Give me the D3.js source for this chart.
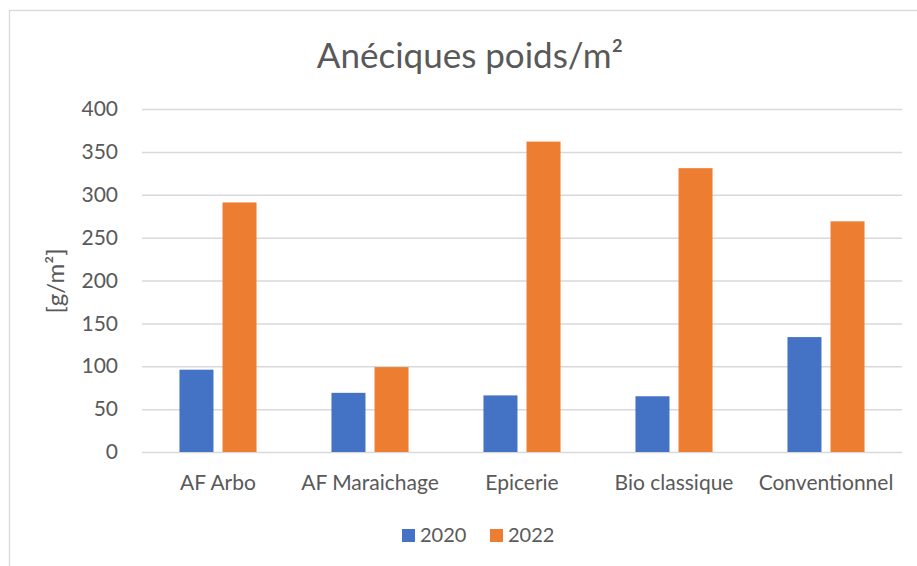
<!DOCTYPE html>
<html>
<head>
<meta charset="utf-8">
<script src="https://cdn.jsdelivr.net/npm/d3@7"></script>
<style>
  html, body { margin: 0; padding: 0; background: #fff; }
  svg { display: block; font-family: Lato, 'Open Sans', sans-serif; }
</style>
</head>
<body>
<script>
const categories = ['AF Arbo', 'AF Maraichage', 'Epicerie', 'Bio classique', 'Conventionnel'];
const series = ['2020', '2022'];
const values2020 = [96, 69, 66, 65, 134];
const values2022 = [291, 99, 362, 331, 269];
const yTicks = [0, 50, 100, 150, 200, 250, 300, 350, 400];
const colors = ['#4472C4', '#ED7D31'];

let w = 917,
  h = 566,
  plotLeft = 142,
  plotRight = 902,
  plotTop = 109,
  plotBottom = 452;

const rows = categories.map((c, i) => ({ cat: c, vals: [values2020[i], values2022[i]] }));

let x0 = d3.scaleBand()
  .domain(categories)
  .range([plotLeft, plotRight])
  .padding(0);

let x1 = d3.scaleBand()
  .domain(series)
  .range([0, x0.bandwidth()])
  .paddingInner(0.21)
  .paddingOuter(0.87);

let y = d3.scaleLinear()
  .domain([0, 400])
  .range([plotBottom, plotTop]);

let color = d3.scaleOrdinal().domain(series).range(colors);

let svg = d3.select('body')
  .append('svg')
  .attr('width', w)
  .attr('height', h);

// chart frame
svg.append('rect')
  .attr('x', 9.5)
  .attr('y', 10.5)
  .attr('width', w)
  .attr('height', h)
  .attr('fill', 'none')
  .attr('stroke', '#d9d9d9')
  .attr('stroke-width', 1.3);

// title
svg.append('text')
  .attr('x', 470)
  .attr('y', 68)
  .attr('text-anchor', 'middle')
  .attr('font-size', '35px')
  .attr('fill', '#595959')
  .text('Anéciques poids/m²');

// gridlines + y labels
let yAxis = d3.axisLeft(y)
  .tickValues(yTicks)
  .tickSize(-(plotRight - plotLeft))
  .tickPadding(24);

let gy = svg.append('g')
  .attr('transform', `translate(${plotLeft},0)`)
  .call(yAxis);

gy.select('.domain').remove();
gy.selectAll('.tick line')
  .attr('stroke', '#d9d9d9')
  .attr('stroke-width', 1.5);
gy.selectAll('.tick text')
  .attr('fill', '#595959')
  .attr('font-size', '21px')
  .attr('font-family', 'Lato, sans-serif');

// bars
let groups = svg.selectAll('g.cat')
  .data(rows)
  .enter()
  .append('g')
  .attr('class', 'cat')
  .attr('transform', d => `translate(${x0(d.cat)},0)`);

groups.selectAll('rect')
  .data(d => d.vals.map((v, i) => ({ key: series[i], v: v })))
  .enter()
  .append('rect')
  .attr('x', d => x1(d.key))
  .attr('y', d => y(d.v))
  .attr('width', x1.bandwidth())
  .attr('height', d => plotBottom - y(d.v))
  .attr('fill', d => color(d.key));

// x labels
let xAxis = d3.axisBottom(x0).tickSize(0).tickPadding(23);
let gx = svg.append('g')
  .attr('transform', `translate(0,${plotBottom})`)
  .call(xAxis);
gx.select('.domain').remove();
gx.selectAll('.tick text')
  .attr('fill', '#595959')
  .attr('font-size', '21px')
  .attr('font-family', 'Lato, sans-serif');

// y axis title
svg.append('text')
  .attr('transform', 'translate(64,281) rotate(-90)')
  .attr('text-anchor', 'middle')
  .attr('font-size', '24px')
  .attr('fill', '#595959')
  .text('[g/m²]');

// legend
let legend = svg.append('g')
  .attr('transform', 'translate(402,529)');

let item = legend.selectAll('g')
  .data(series)
  .enter()
  .append('g')
  .attr('transform', (d, i) => `translate(${i * 88},0)`);

item.append('rect')
  .attr('width', 13)
  .attr('height', 13)
  .attr('fill', d => color(d));

item.append('text')
  .attr('x', 18)
  .attr('y', 13)
  .attr('font-size', '20px')
  .attr('fill', '#595959')
  .text(d => d);
</script>
</body>
</html>
